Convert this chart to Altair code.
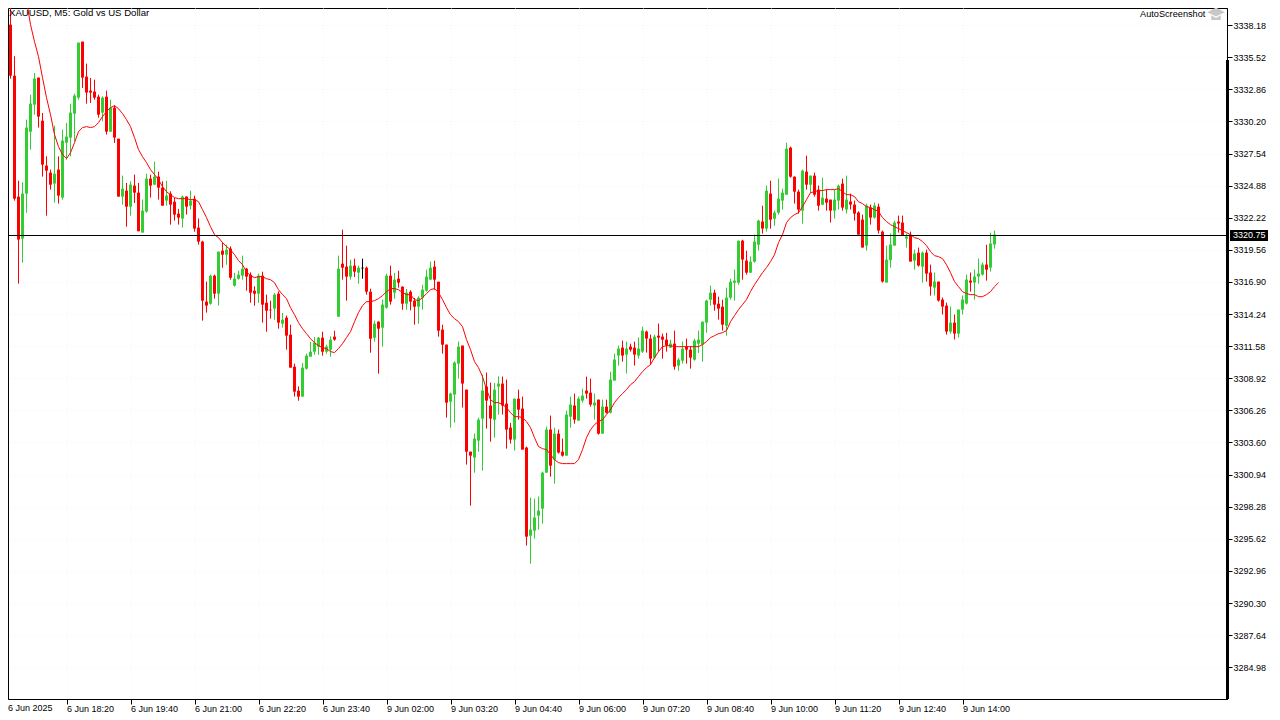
import altair as alt
import pandas as pd

# Prices are stored relative to this base (USD)
BASE = 3300.0

highs = [
40.12,40.13,35.60,25.29,25.16,30.35,32.42,34.21,33.83,30.90,
27.31,26.21,29.85,27.31,29.52,30.07,31.67,32.50,36.73,36.81,
34.99,33.80,33.66,32.42,32.28,32.75,32.00,31.51,28.77,25.71,
25.10,25.24,25.79,25.10,23.72,25.87,25.79,26.87,26.04,25.24,
25.29,24.41,23.86,22.95,24.05,24.00,24.47,24.05,22.15,20.32,
16.93,17.51,17.51,19.41,20.18,19.99,19.85,17.64,17.83,19.08,
18.06,17.70,16.54,17.59,17.75,15.85,15.35,15.98,16.12,14.33,
14.11,13.36,10.13,8.25,10.18,10.96,11.95,12.34,12.34,12.78,
11.70,12.39,12.86,19.08,21.23,19.91,18.75,18.83,18.25,18.83,
18.17,16.34,13.69,13.64,15.43,17.59,18.25,17.64,17.83,16.54,
16.32,16.21,15.57,15.71,16.67,17.92,18.58,18.66,16.92,13.36,
11.71,7.73,10.33,11.96,11.63,7.98,2.84,4.33,5.66,9.22,
9.39,8.56,8.53,9.08,9.06,8.81,5.22,7.23,7.98,7.40,
3.26,-0.97,-1.05,-0.88,1.19,4.91,5.83,4.83,4.67,3.92,
6.24,7.40,7.65,7.40,8.06,9.06,8.89,7.65,7.15,7.15,
7.15,9.47,10.96,11.63,12.04,11.96,11.79,11.96,12.29,13.20,
12.87,12.54,12.54,13.45,12.62,12.68,12.12,12.87,10.60,11.95,
12.20,11.57,12.20,12.87,13.61,15.43,16.59,16.26,15.68,15.43,
16.43,17.17,17.92,20.32,20.40,19.49,19.02,20.82,22.06,23.22,
24.88,25.29,22.81,25.46,24.63,28.44,28.11,25.65,24.55,26.20,
27.36,25.71,25.96,24.88,25.54,24.55,23.72,24.55,24.97,25.46,
25.71,24.22,23.64,22.76,22.48,23.39,23.31,23.48,23.39,21.16,
19.91,20.91,21.98,22.40,22.40,20.91,21.07,19.58,19.75,19.42,
19.58,18.34,17.68,16.93,15.61,15.19,14.86,14.20,14.61,15.77,
17.51,17.68,17.92,18.84,18.51,19.98,20.99,21.16]

body_tops = [
40.07,38.22,33.99,23.97,24.22,29.69,31.67,33.75,33.83,30.26,
26.54,25.96,25.87,26.21,28.61,28.94,30.93,32.34,36.73,36.81,
33.91,32.75,32.67,32.25,32.17,32.25,31.34,31.34,28.77,24.63,
24.47,24.96,24.88,24.30,22.81,25.46,25.46,25.63,25.63,24.71,
24.05,24.22,23.55,22.56,23.97,23.97,23.64,23.80,21.40,20.24,
15.27,17.42,17.42,19.41,19.49,19.57,19.66,17.17,17.50,18.00,
18.00,17.50,16.18,17.42,17.42,15.18,14.60,15.85,15.93,13.77,
13.94,12.53,9.88,7.89,9.80,10.79,11.12,11.87,12.28,12.28,
11.54,12.12,12.37,18.00,18.41,18.17,18.25,18.25,18.08,18.08,
18.08,16.09,13.44,13.61,15.02,17.42,17.42,17.09,17.17,16.51,
16.01,16.09,15.35,15.60,16.26,17.34,18.08,18.17,16.92,12.95,
11.71,7.65,10.22,11.54,11.63,7.98,2.84,3.92,5.49,7.90,
8.23,6.66,7.98,8.48,8.48,6.82,4.83,7.23,7.23,6.41,
3.18,-3.62,-2.62,-2.04,1.10,4.67,4.67,4.33,4.33,2.84,
5.91,6.74,6.66,7.23,7.48,7.90,7.73,6.90,7.15,6.57,
6.57,8.81,10.47,11.38,11.46,11.38,11.54,11.46,11.38,12.87,
12.79,12.21,12.37,12.45,12.37,12.12,11.79,11.79,10.46,11.37,
11.54,11.29,12.04,12.12,13.61,15.35,16.01,16.01,15.10,14.85,
15.60,16.92,17.01,20.32,20.32,18.67,18.58,20.24,21.98,21.90,
24.46,24.22,22.64,23.80,24.30,27.94,28.03,25.62,24.38,26.12,
26.04,25.71,25.71,24.55,23.88,23.80,23.72,23.72,24.88,25.05,
23.72,23.56,23.31,22.65,22.07,23.23,23.06,23.23,23.14,21.07,
18.75,20.00,21.82,21.90,21.82,20.66,20.82,19.25,19.33,19.33,
19.33,17.68,16.93,16.93,15.44,14.94,13.53,13.53,14.61,15.44,
17.10,17.01,17.35,17.59,18.34,18.34,20.08,20.82]

body_bottoms = [
38.72,33.99,23.80,20.41,20.49,24.22,29.35,31.59,30.60,26.62,
26.12,24.96,25.05,24.05,23.89,28.44,28.86,30.84,32.17,33.83,
32.59,32.59,32.17,30.76,30.93,29.35,29.35,28.86,23.97,23.97,
23.14,23.14,24.30,21.10,20.99,22.73,24.88,24.96,24.71,23.22,
23.64,23.31,22.48,22.23,22.15,23.14,23.22,21.32,20.24,15.35,
14.94,15.10,15.93,15.93,19.16,19.16,17.25,16.59,17.17,17.42,
17.34,16.01,15.93,15.93,15.02,14.52,14.55,14.69,13.53,13.44,
12.45,9.80,7.81,7.40,7.40,9.72,10.71,11.12,11.54,11.12,
11.12,11.29,12.12,14.02,18.08,17.34,17.34,17.75,17.67,18.03,
16.09,12.20,12.28,13.03,13.11,14.77,15.27,16.01,16.84,15.10,
15.10,15.27,14.85,14.85,15.60,16.18,17.09,17.09,12.86,11.70,
6.90,6.99,7.57,10.13,8.48,2.84,2.51,2.35,3.76,5.58,
7.07,5.58,5.49,8.23,6.66,4.67,3.84,3.84,6.32,3.01,
-4.20,-4.12,-3.70,-2.46,-1.88,1.10,1.68,2.18,2.76,2.51,
2.51,5.74,5.49,5.41,7.07,7.65,6.74,6.66,4.33,4.33,
6.07,6.07,8.73,10.80,10.80,10.88,11.29,10.88,10.80,11.13,
12.21,10.55,10.63,12.29,12.12,11.63,11.46,9.88,9.97,10.38,
11.29,10.63,10.46,11.79,11.71,13.53,15.43,15.02,14.69,13.36,
13.28,15.60,16.84,16.84,18.75,17.67,17.67,18.58,19.99,21.32,
21.32,22.06,22.14,22.64,23.64,24.13,25.62,24.38,22.89,22.81,
24.96,24.96,24.13,23.22,23.30,23.47,22.81,22.81,23.64,23.06,
22.90,23.31,22.56,20.82,19.75,19.91,22.23,22.23,21.16,16.93,
16.85,18.70,19.91,21.74,20.74,20.49,18.59,18.67,18.26,18.17,
17.59,16.52,16.43,15.36,14.86,12.79,12.79,12.62,12.62,14.61,
15.11,16.85,16.85,17.35,17.51,17.92,18.09,20.00]

lows = [
35.87,33.74,23.64,16.76,18.50,22.64,27.86,30.76,29.69,25.63,
22.39,24.55,23.47,23.39,23.72,27.03,27.31,28.55,32.00,32.97,
31.67,31.73,32.00,30.51,30.21,29.11,29.35,28.42,23.97,23.31,
21.48,22.39,23.44,21.10,20.99,22.64,23.89,24.96,23.72,23.22,
23.22,21.65,21.98,21.65,21.40,22.48,22.89,21.07,19.99,13.70,
14.36,15.02,15.52,14.94,18.08,18.33,17.09,16.51,17.09,17.09,
16.18,15.18,14.93,15.16,13.53,12.78,13.86,13.77,13.03,13.11,
11.29,9.80,7.40,7.06,7.40,9.63,10.71,10.87,10.87,10.79,
10.96,10.71,12.03,14.02,17.09,15.35,17.09,17.31,16.76,17.17,
15.85,11.04,11.95,9.30,11.54,14.69,15.02,15.51,16.43,14.60,
14.60,14.55,13.36,13.44,14.60,16.09,17.09,16.26,12.37,10.96,
5.66,4.83,5.25,8.89,6.49,1.77,-1.63,1.10,2.84,1.27,
4.75,3.67,4.00,5.91,5.91,3.09,3.51,2.93,5.49,3.01,
-4.94,-6.44,-4.36,-3.62,-3.12,1.10,0.77,0.19,2.68,2.43,
2.51,4.83,5.16,5.41,6.90,7.23,6.57,5.49,4.25,4.33,
5.99,5.99,8.73,9.97,10.30,9.31,11.13,9.97,10.55,11.02,
11.05,10.05,10.55,11.13,10.55,11.13,11.43,9.63,9.55,10.13,
10.13,9.72,10.38,11.02,10.30,12.70,14.94,14.52,13.78,12.87,
12.45,15.43,15.35,16.68,17.09,17.51,17.64,18.50,19.49,20.90,
21.07,21.32,21.56,22.48,22.89,24.13,25.54,23.39,22.56,21.73,
24.55,24.27,23.97,22.81,23.30,22.81,21.82,22.15,22.90,22.81,
22.56,22.90,21.98,20.82,19.75,19.50,21.65,22.15,20.91,16.85,
16.85,18.09,19.91,20.99,20.74,19.75,18.59,17.92,18.17,16.85,
16.93,15.77,15.77,15.27,14.20,12.54,12.62,12.13,12.29,14.20,
15.03,16.10,15.44,16.76,17.43,17.01,17.76,19.66]

# D = bearish (red), U = bullish (green), F = flat (black)
directions = (
    "DDDDUUUUDDDDUDUUUUUDDDDDUDUDDUDUDDUUDUDDUDDDUDUDDDDUDU"
    "DUDUUUDDDUDDDUDUDDDDUUUUUDUUDUDDUDUFDDUDUUDUDDUDDUUUUDDDD"
    "UUUDDDUUUDDUUDDDUDDDUUUUUDUDDUUDUUDDUDUDUUUDUDDUUDDUDDD"
    "UDUUDDUUUUUDDDUUUUDDUUUDUDUUUUDDDUDUDDUDDUUDUDDDDUDUDDUUUDDUDUDUDDUDDDUDUUUDUUUDUU"
)

# Moving average, bars 6 to 249
ma_first_bar = 6
ma_values = [
40.21,38.22,36.81,35.57,33.83,32.17,30.76,29.11,28.11,27.45,
27.12,27.61,28.44,29.35,29.69,29.77,29.69,29.77,30.10,30.60,
31.01,31.34,31.51,31.26,30.85,30.35,29.77,28.86,27.86,27.28,
26.79,26.21,25.79,25.38,24.80,24.38,24.13,23.89,23.80,23.80,
23.80,23.72,23.72,23.55,22.89,22.23,21.48,20.82,20.57,20.16,
19.83,19.58,19.16,18.67,18.33,17.75,17.42,17.26,17.34,17.34,
17.17,17.09,16.84,16.26,15.85,15.52,14.77,14.19,13.53,13.03,
12.62,12.20,11.87,11.62,11.46,11.38,11.13,11.05,11.38,11.79,
12.29,12.78,13.61,14.36,14.94,15.27,15.27,15.35,15.52,15.77,
16.10,16.35,16.35,16.26,16.02,15.85,15.85,15.44,15.35,15.60,
15.93,16.26,16.35,16.02,15.44,14.77,14.19,13.86,13.61,13.20,
12.12,11.29,10.30,9.80,9.06,7.98,7.15,6.90,6.90,6.74,
6.49,6.07,5.74,5.74,5.66,5.33,4.83,4.00,3.26,3.09,
3.01,2.59,2.18,1.93,1.85,1.85,1.85,1.85,2.18,3.01,
4.00,4.66,5.08,5.33,5.49,5.91,6.32,6.90,7.32,7.65,
7.98,8.39,8.64,9.06,9.47,9.80,10.05,10.63,11.13,11.54,
11.62,11.62,11.54,11.54,11.54,11.54,11.54,11.54,11.54,11.71,
11.96,12.29,12.45,12.62,12.70,12.87,13.61,14.11,14.61,15.02,
15.44,16.10,16.68,17.17,17.67,18.09,18.58,19.16,20.16,20.82,
21.81,22.23,22.48,22.64,23.14,23.72,24.30,24.38,24.47,24.47,
24.55,24.55,24.55,24.63,24.38,24.13,24.13,23.97,23.55,23.39,
23.14,23.06,22.89,22.73,22.23,21.90,21.65,21.48,21.32,21.15,
20.99,20.82,20.57,20.49,20.24,19.91,19.41,19.08,19.00,18.83,
18.33,17.67,16.93,16.51,16.10,15.93,15.85,15.85,15.68,15.68,
15.85,16.10,16.51,16.84]

price_ticks = [3338.18, 3335.52, 3332.86, 3330.20, 3327.54, 3324.88, 3322.22, 3319.56,
               3316.90, 3314.24, 3311.58, 3308.92, 3306.26, 3303.60, 3300.94, 3298.28,
               3295.62, 3292.96, 3290.30, 3287.64, 3284.98]
time_labels = ["6 Jun 18:20", "6 Jun 19:40", "6 Jun 21:00", "6 Jun 22:20", "6 Jun 23:40",
               "9 Jun 02:00", "9 Jun 03:20", "9 Jun 04:40", "9 Jun 06:00", "9 Jun 07:20",
               "9 Jun 08:40", "9 Jun 10:00", "9 Jun 11:20", "9 Jun 12:40", "9 Jun 14:00"]
time_ticks = [16 * (k + 1) for k in range(len(time_labels))]
first_time_label = "6 Jun 2025"
current_price = 3320.75
chart_title = "XAUUSD, M5:  Gold vs US Dollar"
watermark = "AutoScreenshot"

n = len(highs)
assert n == 248 and len(body_tops) == n and len(body_bottoms) == n and len(lows) == n
assert len(directions) == n, len(directions)
assert len(ma_values) == 244, len(ma_values)

candles = pd.DataFrame({
    "bar": list(range(1, n + 1)),
    "high": [BASE + v for v in highs],
    "top": [BASE + v for v in body_tops],
    "bottom": [BASE + v for v in body_bottoms],
    "low": [BASE + v for v in lows],
    "dir": list(directions),
})
ma = pd.DataFrame({
    "bar": [ma_first_bar + k for k in range(len(ma_values))],
    "ma": [BASE + v for v in ma_values],
})

W, H = 1219, 691
FONT = "Liberation Sans"
x_scale = alt.Scale(domain=[1.375, 306.125], nice=False, zero=False, padding=0)
y_scale = alt.Scale(domain=[3282.348, 3339.597], nice=False, zero=False)

label_map = "{" + ",".join(f"'{t}':'{l}'" for t, l in zip(time_ticks, time_labels)) + "}"
x_axis = alt.Axis(values=time_ticks, title=None, labelExpr=label_map + "[datum.value]",
                  labelAlign="left", labelBaseline="middle", labelFont=FONT, labelFontSize=9,
                  labelColor="black", labelPadding=4, labelOverlap=False, labelFlush=False,
                  tickColor="black", tickSize=5, domainColor="black",
                  grid=True, gridColor="#f0f0f0", gridDash=[1, 3])
y_axis = alt.Axis(values=price_ticks, title=None, orient="right", format=".2f",
                  labelFont=FONT, labelFontSize=9, labelColor="black", labelPadding=1,
                  labelOverlap=False, labelFlush=False, tickColor="black", tickSize=5,
                  domainColor="black", grid=True, gridColor="#f0f0f0", gridDash=[1, 3])

color = alt.Color("dir:N", legend=None,
                  scale=alt.Scale(domain=["U", "D", "F"], range=["#32CD32", "#FF0000", "#000000"]))
x_enc = alt.X("bar:Q", scale=x_scale, axis=x_axis)

wicks = alt.Chart(candles).mark_rule(strokeWidth=1, clip=True).encode(
    x=x_enc, y=alt.Y("high:Q", scale=y_scale, axis=y_axis), y2="low:Q", color=color)
bodies = alt.Chart(candles).mark_bar(size=3, clip=True).encode(
    x=x_enc, y=alt.Y("top:Q", scale=y_scale, axis=y_axis), y2="bottom:Q", color=color)
ma_line = alt.Chart(ma).mark_line(color="#FF0000", strokeWidth=1, clip=True).encode(
    x=x_enc, y=alt.Y("ma:Q", scale=y_scale, axis=y_axis))

price_df = pd.DataFrame({"price": [current_price], "label": [f"{current_price:.2f}"]})
price_y = alt.Y("price:Q", scale=y_scale, axis=y_axis)
price_line = alt.Chart(price_df).mark_rule(color="black", strokeWidth=1).encode(
    x=alt.value(0), x2=alt.value(W), y=price_y)
price_box = alt.Chart(price_df).mark_rule(color="black", strokeWidth=11).encode(
    x=alt.value(1222), x2=alt.value(1260), y=price_y)
price_text = alt.Chart(price_df).mark_text(color="white", font=FONT, fontSize=9, align="left", baseline="middle").encode(
    x=alt.value(1225), y=price_y, text="label:N")

axis_thick = alt.Chart(price_df).mark_rule(color="black", strokeWidth=3).encode(
    x=alt.value(1219.5), y=alt.value(52), y2=alt.value(H))


def label(text, x, y, **kw):
    return alt.Chart(pd.DataFrame({"t": [text]})).mark_text(
        font=FONT, align="left", baseline="middle", color="black", **kw).encode(
        x=alt.value(x), y=alt.value(y), text="t:N")


title_mark = label(chart_title, 1, 5, fontSize=9.6)
wm_mark = label(watermark, 1132, 6, fontSize=9.2)
first_mark = label(first_time_label, 0, H + 9, fontSize=9)
cap_path = ("M0,-0.75 L1,-0.2 L0,0.3 L-1,-0.2 Z "
            "M-0.55,0.15 L0,0.45 L0.55,0.15 L0.55,0.7 L-0.55,0.7 Z")
icon = alt.Chart(price_df).mark_point(shape=cap_path, filled=True, color="#c8c8c8", size=300, opacity=1).encode(
    x=alt.value(1208), y=alt.value(6))

chart = alt.layer(
    wicks, bodies, ma_line, price_line, axis_thick, price_box, price_text,
    title_mark, wm_mark, first_mark, icon,
).properties(
    width=W, height=H,
    background="white",
    autosize=alt.AutoSizeParams(type="none"),
    padding={"left": 0, "top": 0, "right": 45, "bottom": 16},
).configure_view(stroke="black", strokeWidth=1)

chart.save("out.html", embed_options={"renderer": "svg", "actions": False})
